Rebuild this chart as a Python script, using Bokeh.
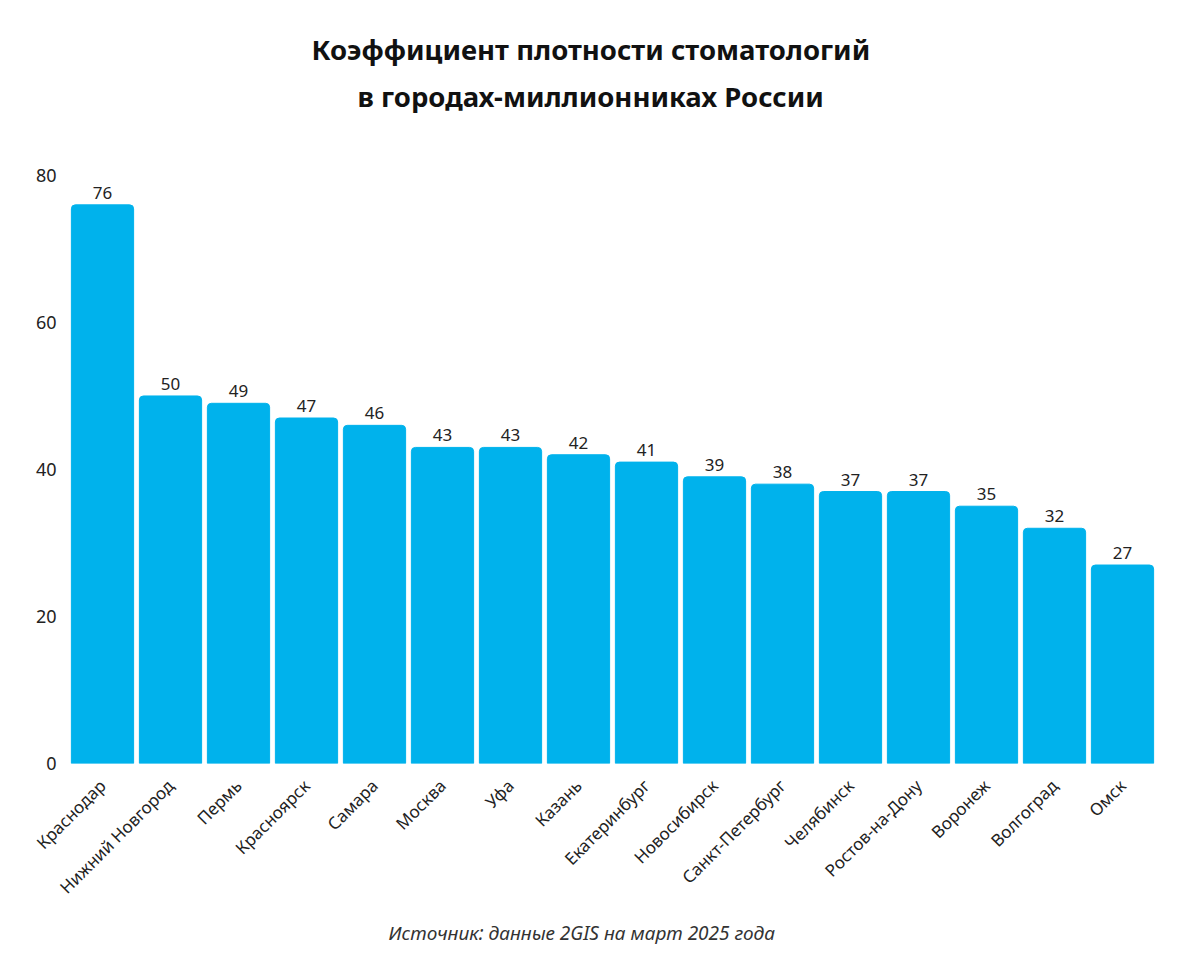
from bokeh.plotting import figure
from bokeh.models import ColumnDataSource, Range1d, FixedTicker, Title
from bokeh.embed import file_html
from bokeh.resources import INLINE
from bokeh.core.properties import value
import math

cities = ["Краснодар", "Нижний Новгород", "Пермь", "Красноярск", "Самара", "Москва", "Уфа",
          "Казань", "Екатеринбург", "Новосибирск", "Санкт-Петербург", "Челябинск",
          "Ростов-на-Дону", "Воронеж", "Волгоград", "Омск"]
values = [76, 50, 49, 47, 46, 43, 43, 42, 41, 39, 38, 37, 37, 35, 32, 27]
y_ticks = [0, 20, 40, 60, 80]

src = ColumnDataSource(dict(city=cities, v=values, lbl=[str(v) for v in values]))

FONT = "Noto Sans"

p = figure(x_range=cities, y_range=Range1d(0, 87.2), width=1172, height=953,
           output_backend="svg", toolbar_location=None,
           min_border_left=68, min_border_right=16, min_border_top=122, min_border_bottom=40)

p.vbar(x="city", top="v", width=0.915, source=src, color="#00B2EC",
       border_radius=(4, 4, 0, 0))
p.text(x="city", y="v", text="lbl", source=src, text_align="center", text_baseline="bottom",
       y_offset=-6, text_font=value(FONT), text_font_size="17px", text_color="#222222")

p.xgrid.visible = False
p.ygrid.visible = False
p.outline_line_color = None
p.background_fill_color = "white"
p.border_fill_color = "white"

p.yaxis.ticker = FixedTicker(ticks=y_ticks)
p.yaxis.axis_line_color = None
p.yaxis.major_tick_line_color = None
p.yaxis.minor_tick_line_color = None
p.yaxis.major_label_text_font = FONT
p.yaxis.major_label_text_font_size = "18px"
p.yaxis.major_label_text_color = "#222222"
p.yaxis.major_label_standoff = 6

p.xaxis.axis_line_color = None
p.xaxis.major_tick_line_color = None
p.xaxis.major_label_orientation = math.pi / 4
p.xaxis.major_label_text_font = FONT
p.xaxis.major_label_text_font_size = "17px"
p.xaxis.major_label_text_color = "#222222"
p.xaxis.major_label_standoff = 13
p.x_range.range_padding = 0

src_title = Title(text="Источник: данные 2GIS на март 2025 года", align="left",
                  text_font=FONT, text_font_style="italic", text_font_size="19px",
                  text_color="#333333", standoff=16, offset=320)
p.add_layout(src_title, "below")

t2 = Title(text="в городах-миллионниках России", align="left", text_font=FONT,
           text_font_style="bold", text_font_size="27.5px", text_color="#111111",
           standoff=16, offset=289)
t1 = Title(text="Коэффициент плотности стоматологий", align="left", text_font=FONT,
           text_font_style="bold", text_font_size="27.5px", text_color="#111111",
           standoff=0, offset=243)
p.add_layout(t2, "above")
p.add_layout(t1, "above")

open("out.html", "w").write(file_html(p, INLINE))
